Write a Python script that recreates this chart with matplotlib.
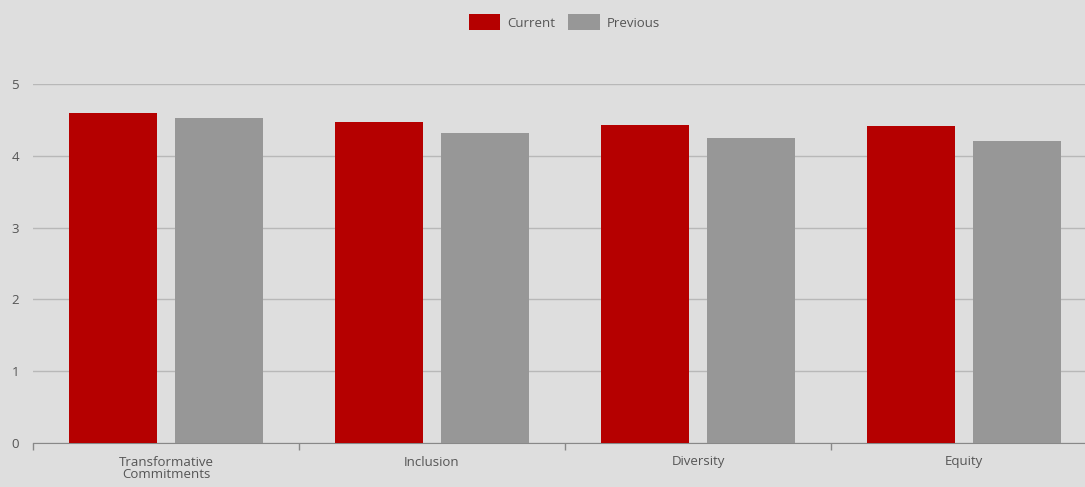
import matplotlib.pyplot as plt
import numpy as np
from matplotlib.patches import Patch

categories = ["Transformative\nCommitments", "Inclusion", "Diversity", "Equity"]
current = [4.60, 4.47, 4.43, 4.42]
previous = [4.53, 4.32, 4.25, 4.21]

BG = "#dedede"
RED = "#b50000"
GREY = "#979797"
TEXT = "#555555"

plt.rcParams["font.family"] = ["Open Sans", "DejaVu Sans"]

fig = plt.figure(figsize=(10.85, 4.87), dpi=100, facecolor=BG)
# axes runs slightly past the right edge of the canvas
ax = fig.add_axes([33 / 1085, (487 - 443) / 487, 1064 / 1085, 359 / 487])
ax.set_facecolor(BG)

x = np.arange(len(categories))
w = 88 / 266
off = (18 / 266 + w) / 2
ax.bar(x - off, current, width=w, color=RED, zorder=3, label="Current")
ax.bar(x + off, previous, width=w, color=GREY, zorder=3, label="Previous")

ax.set_xlim(-0.5, len(categories) - 0.5)
ax.set_ylim(0, 5)
ax.set_yticks(range(6))
ax.yaxis.grid(True, color="#b8b8b8", linewidth=1, zorder=0)
ax.tick_params(axis="y", length=0, pad=10, labelsize=9.5, labelcolor=TEXT)

ax.set_xticks(x)
ax.set_xticklabels(categories, fontsize=9.5, color=TEXT, linespacing=1.0)
ax.tick_params(axis="x", length=0, pad=9)
ax.set_xticks(np.arange(len(categories) + 1) - 0.5, minor=True)
ax.tick_params(axis="x", which="minor", length=5, color="#888888", width=1)

for s in ["top", "right", "left"]:
    ax.spines[s].set_visible(False)
ax.spines["bottom"].set_color("#888888")

handles = [Patch(facecolor=RED, label="Current"), Patch(facecolor=GREY, label="Previous")]
fig.legend(handles=handles, loc="upper center", bbox_to_anchor=(0.52, 0.995), ncol=2,
           frameon=False, fontsize=9.5, labelcolor=TEXT, handlelength=2.4,
           handleheight=1.5, handletextpad=0.5, columnspacing=1.0)

fig.savefig("out.png", dpi=100, facecolor=BG)
